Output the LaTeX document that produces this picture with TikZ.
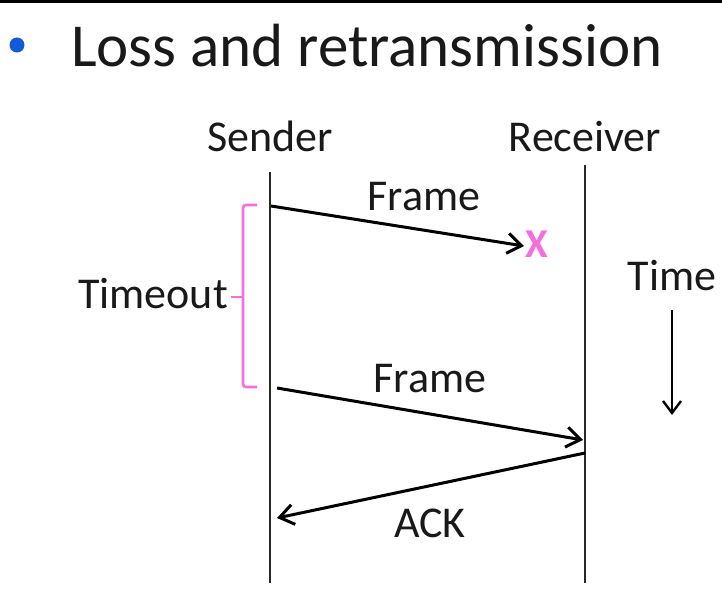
\documentclass[tikz,border=0pt]{standalone}
\usepackage{fontspec}
\setmainfont{Carlito}
\usetikzlibrary{arrows.meta}
\definecolor{pinkmag}{RGB}{245,110,222}
\definecolor{bulletblue}{RGB}{20,90,215}
\definecolor{lifeline}{RGB}{40,40,40}
\begin{document}
\begin{tikzpicture}[x=1pt,y=-1pt,
  lbl/.style={font=\fontsize{44}{50}\selectfont, inner sep=0pt, text=black!90},
  life/.style={draw=lifeline, line width=2.8pt},
  msg/.style={draw=black, line width=3pt, -{Straight Barb[length=14pt,width=20pt,line width=3pt]}},
  brk/.style={draw=pinkmag, line width=2.6pt, rounded corners=3pt}]
\useasboundingbox (0,0) rectangle (722,604);
\fill[white] (0,0) rectangle (722,604);
\fill[black] (0,0) rectangle (722,3);
% title
\fill[bulletblue] (17,45) circle (7.5);
\node[anchor=base west, inner sep=0pt, font=\fontsize{61}{70}\selectfont, text=black!90] (title) at (71,67) {Loss and retransmission};
% headers
\node[lbl, anchor=base] (snd) at (270,152) {Sender};
\node[lbl, anchor=base] (rcv) at (585,152) {Receiver};
% lifelines
\coordinate (s0) at (270,172);
\coordinate (s1) at (270,583);
\coordinate (r0) at (585,165);
\coordinate (r1) at (585,583);
\draw[life] (s0) -- (s1);
\draw[life] (r0) -- (r1);
% frame 1 (lost)
\coordinate (f1a) at (271,206);
\coordinate (f1b) at (524,246);
\draw[msg] (f1a) -- (f1b);
\node[lbl, anchor=base] (fr1) at (424,210) {Frame};
\node[font=\fontsize{41}{48}\selectfont\bfseries, text=pinkmag, inner sep=0pt, anchor=base] (x) at (537,257) {X};
% frame 2
\coordinate (f2a) at (277,388);
\coordinate (f2b) at (583,440);
\draw[msg] (f2a) -- (f2b);
\node[lbl, anchor=base] (fr2) at (430,392) {Frame};
% ack
\coordinate (aa) at (585,453);
\coordinate (ab) at (277,518);
\draw[msg] (aa) -- (ab);
\node[lbl, anchor=base] (ack) at (430,537) {ACK};
% timeout bracket
\coordinate (bt) at (257,205);
\coordinate (bb) at (257,387);
\coordinate (bm) at (231,297);
\draw[brk] (bt) -- (243,205) -- (243,387) -- (bb);
\draw[brk] (243,297) -- (bm);
\node[lbl, anchor=base east] (to) at (228,308) {Timeout};
% time
\node[lbl, anchor=base] (time) at (672,290) {Time};
\coordinate (t0) at (672,310);
\coordinate (t1) at (672,415);
\draw[draw=black, line width=2.4pt, -{Straight Barb[length=12pt,width=18pt,line width=2.4pt]}] (t0) -- (t1);
\end{tikzpicture}
\end{document}
